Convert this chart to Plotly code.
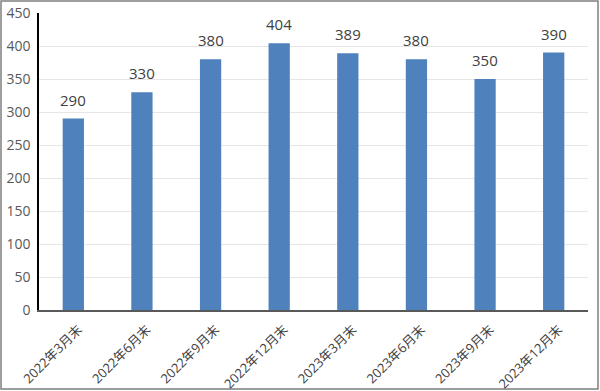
import plotly.graph_objects as go

categories = ["2022年3月末", "2022年6月末", "2022年9月末", "2022年12月末",
              "2023年3月末", "2023年6月末", "2023年9月末", "2023年12月末"]
values = [290, 330, 380, 404, 389, 380, 350, 390]
y_ticks = [0, 50, 100, 150, 200, 250, 300, 350, 400, 450]

W, H = 600, 391
ml, mr, mt, mb = 39, 12, 13, 81
pw, ph = W - ml - mr, H - mt - mb

fig = go.Figure(go.Bar(
    x=categories, y=values, width=0.31,
    marker=dict(color="#4f81bd", line=dict(width=0)),
))
for c, v in zip(categories, values):
    fig.add_annotation(x=c, y=v, text=str(v), showarrow=False,
                       yanchor="bottom", yshift=7,
                       font=dict(size=15, color="#404040"))

fig.update_layout(
    width=W, height=H,
    margin=dict(l=ml, r=mr, t=mt, b=mb, autoexpand=False),
    paper_bgcolor="white", plot_bgcolor="white",
    font=dict(family="Open Sans, Noto Sans CJK JP, sans-serif", color="#595959"),
    showlegend=False,
)
fig.update_xaxes(
    tickangle=-45, tickfont=dict(size=13, color="#404040"),
    showline=True, linecolor="#595959", linewidth=1.5,
    showgrid=False, ticks="outside", ticklen=5, tickcolor="rgba(0,0,0,0)",
    ticklabelshift=5,
    automargin=False,
)
fig.update_yaxes(
    range=[0, 450], tickvals=y_ticks, tickfont=dict(size=14, color="#595959"),
    showgrid=True, gridcolor="#e6e6e6", gridwidth=1,
    showline=True, linecolor="#000000", linewidth=1.5,
    zeroline=False, ticks="outside", ticklen=4, tickcolor="rgba(0,0,0,0)",
    automargin=False,
)
# outer border
fig.add_shape(type="rect", xref="paper", yref="paper",
              x0=(1 - ml) / pw, x1=(W - 2 - ml) / pw,
              y0=(H - mb - (H - 2)) / ph, y1=(H - mb - 1) / ph,
              line=dict(color="#7f7f7f", width=1.5), fillcolor="rgba(0,0,0,0)")

fig.write_html("out.html", config={"displayModeBar": False},
               post_script="document.body.style.margin='0';document.body.style.overflow='hidden';")
